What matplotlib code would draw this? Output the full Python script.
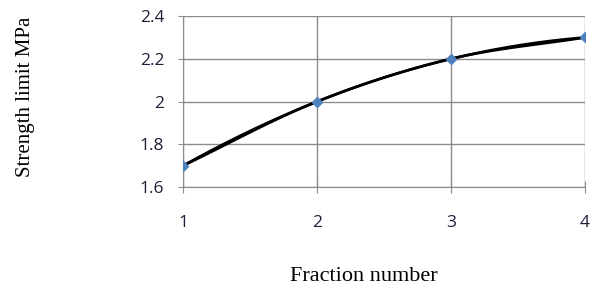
import numpy as np
import matplotlib
matplotlib.use("Agg")
import matplotlib.pyplot as plt

# data
fraction = [1, 2, 3, 4]
strength = [1.7, 2.0, 2.2, 2.3]
y_ticks = [1.6, 1.8, 2.0, 2.2, 2.4]
y_tick_labels = ["1.6", "1.8", "2", "2.2", "2.4"]

x = np.array(fraction, dtype=float)
y = np.array(strength, dtype=float)

# Excel-style smoothed line (Catmull-Rom through the points)
def catmull_rom(px, py, n=40):
    px = np.concatenate([[2 * px[0] - px[1]], px, [2 * px[-1] - px[-2]]])
    py = np.concatenate([[2 * py[0] - py[1]], py, [2 * py[-1] - py[-2]]])
    xs, ys = [], []
    for i in range(1, len(px) - 2):
        t = np.linspace(0, 1, n)
        for arr, out in ((px, xs), (py, ys)):
            p0, p1, p2, p3 = arr[i - 1], arr[i], arr[i + 1], arr[i + 2]
            out.append(0.5 * (2 * p1 + (-p0 + p2) * t
                              + (2 * p0 - 5 * p1 + 4 * p2 - p3) * t ** 2
                              + (-p0 + 3 * p1 - 3 * p2 + p3) * t ** 3))
    return np.concatenate(xs), np.concatenate(ys)

sx, sy = catmull_rom(x, y)

# polynomial trend line
coef = np.polyfit(x, y, 2)
tx = np.linspace(1, 4, 200)
ty = np.polyval(coef, tx)

fig = plt.figure(figsize=(5.93, 2.87), dpi=100)
ax = fig.add_axes([0.3086, 0.348, 0.678, 0.596])

ax.plot(sx, sy, color="black", lw=1.9, zorder=3)
ax.plot(tx, ty, color="black", lw=1.9, zorder=3)
ax.plot(x, y, ls="none", marker="D", ms=5.5, color="#4f81bd", zorder=4)

ax.set_xlim(1, 4)
ax.set_ylim(1.6, 2.4)
ax.set_xticks(fraction)
ax.set_yticks(y_ticks)
ax.set_yticklabels(y_tick_labels)
ax.grid(True, color="#8c8c8c", lw=1)
for s in ["top", "right"]:
    ax.spines[s].set_visible(False)
for s in ["left", "bottom"]:
    ax.spines[s].set_color("#8c8c8c")
ax.tick_params(axis="y", direction="out", length=3.5, color="#8c8c8c",
               labelsize=12.5, labelcolor="#1f1f3a", pad=10)
ax.tick_params(axis="x", direction="inout", length=8, color="#8c8c8c",
               labelsize=12.5, labelcolor="#1f1f3a", pad=16)
for lab in ax.get_xticklabels() + ax.get_yticklabels():
    lab.set_fontfamily("Open Sans")

fig.text(0.043, 0.662, "Strength limit MPa", rotation=90, ha="center",
         va="center", fontsize=15, family="Liberation Serif")
fig.text(0.614, 0.035, "Fraction number", ha="center", va="center",
         fontsize=16, family="Liberation Serif")

fig.savefig("out.png", dpi=100)
